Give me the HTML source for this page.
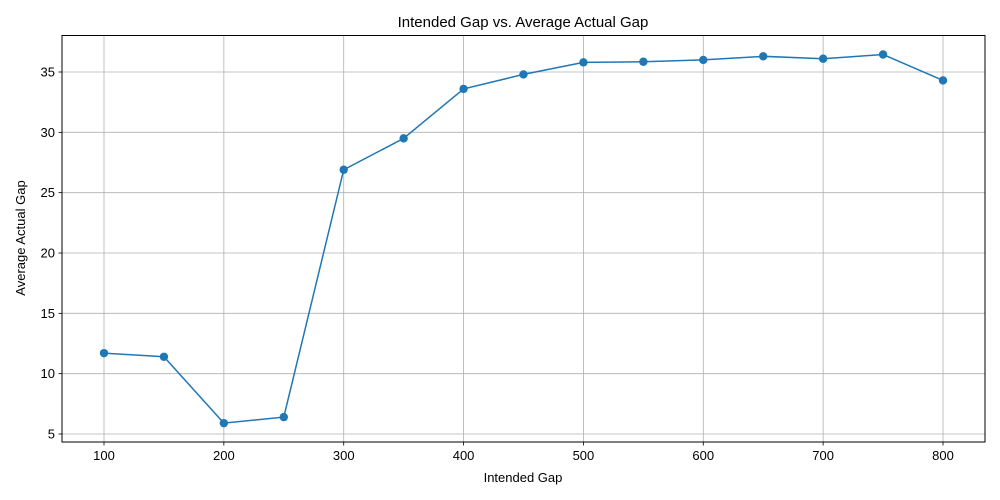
<!DOCTYPE html>
<html><head><meta charset="utf-8"><style>
html,body{margin:0;padding:0;background:#fff;}
svg{display:block;font-family:"Liberation Sans","DejaVu Sans",sans-serif;}
</style></head><body>
<svg id="chart" width="1000" height="500" viewBox="0 0 1000 500" xmlns="http://www.w3.org/2000/svg">
<rect x="0" y="0" width="1000" height="500" fill="#fff"/>
<g id="grid"></g>
<g id="series"></g>
<rect x="62" y="35.5" width="923" height="406.5" fill="none" stroke="#000" stroke-width="1"/>
<g id="ticks"></g>
<text x="523" y="27" text-anchor="middle" font-size="15">Intended Gap vs. Average Actual Gap</text>
<text x="523" y="482" text-anchor="middle" font-size="13">Intended Gap</text>
<text transform="translate(25,238) rotate(-90)" text-anchor="middle" font-size="13">Average Actual Gap</text>
</svg>
<script>
const categories = [100,150,200,250,300,350,400,450,500,550,600,650,700,750,800];
const values = [11.7,11.4,5.9,6.4,26.9,29.5,33.6,34.8,35.8,35.85,36.0,36.3,36.1,36.45,34.3];
const xTicks = [100,200,300,400,500,600,700,800];
const yTicks = [5,10,15,20,25,30,35];

const NS = "http://www.w3.org/2000/svg";
const L=62,R=985,T=35.5,B=442;
function xs(v){return 104 + (v-100)*(839/700);}
function ys(v){return 434 - (v-5)*(362/30);}
function mk(tag,attrs,parent){const e=document.createElementNS(NS,tag);for(const k in attrs)e.setAttribute(k,attrs[k]);parent.appendChild(e);return e;}
const grid=document.getElementById('grid'), ticks=document.getElementById('ticks'), series=document.getElementById('series');

xTicks.forEach(t=>{
  const x=xs(t);
  const g=mk('line',{x1:x,x2:x,y1:T,y2:B,stroke:'#b0b0b0','stroke-width':0.8},grid);
  
  
  const tk=mk('line',{x1:x,x2:x,y1:B,y2:B+3.5,stroke:'#000','stroke-width':0.8},ticks);
  
  
  const lb=mk('text',{x:x,y:B+18,'text-anchor':'middle','font-size':13},ticks);
  lb.textContent=t;
  
  
});
yTicks.forEach(t=>{
  const y=ys(t);
  const g=mk('line',{x1:L,x2:R,y1:y,y2:y,stroke:'#b0b0b0','stroke-width':0.8},grid);
  
  
  const tk=mk('line',{x1:L-3.5,x2:L,y1:y,y2:y,stroke:'#000','stroke-width':0.8},ticks);
  
  
  const lb=mk('text',{x:L-7,y:y+4.5,'text-anchor':'end','font-size':13},ticks);
  lb.textContent=t;
  
  
});
const pts=categories.map((c,i)=>xs(c)+','+ys(values[i])).join(' ');
const pl=mk('polyline',{points:pts,fill:'none',stroke:'#1f77b4','stroke-width':1.5},series);


categories.forEach((c,i)=>{
  const p=mk('circle',{cx:xs(c),cy:ys(values[i]),r:4.2,fill:'#1f77b4'},series);
  
  
});
</script>
</body></html>
